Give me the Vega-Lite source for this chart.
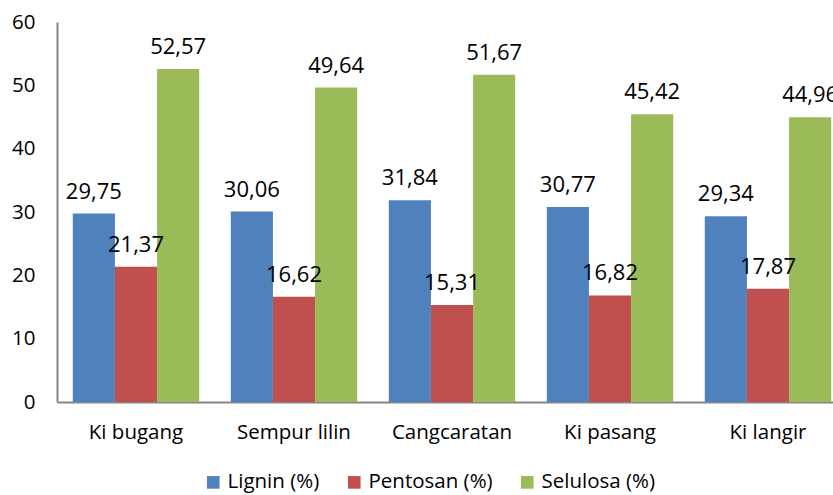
{
  "$schema": "https://vega.github.io/schema/vega-lite/v6.json",
  "autosize": {"type": "none"},
  "padding": {"left": 57, "top": 22, "right": 0, "bottom": 93},
  "width": 790,
  "height": 380,
  "config": {
    "locale": {"number": {"decimal": ",", "thousands": ".", "grouping": [3], "currency": ["", ""]}},
    "view": {"stroke": null},
    "font": "Open Sans"
  },
  "data": {
    "values": [
      {"jenis": "Ki bugang", "komponen": "Lignin (%)", "nilai": 29.75},
      {"jenis": "Ki bugang", "komponen": "Pentosan (%)", "nilai": 21.37},
      {"jenis": "Ki bugang", "komponen": "Selulosa (%)", "nilai": 52.57},
      {"jenis": "Sempur lilin", "komponen": "Lignin (%)", "nilai": 30.06},
      {"jenis": "Sempur lilin", "komponen": "Pentosan (%)", "nilai": 16.62},
      {"jenis": "Sempur lilin", "komponen": "Selulosa (%)", "nilai": 49.64},
      {"jenis": "Cangcaratan", "komponen": "Lignin (%)", "nilai": 31.84},
      {"jenis": "Cangcaratan", "komponen": "Pentosan (%)", "nilai": 15.31},
      {"jenis": "Cangcaratan", "komponen": "Selulosa (%)", "nilai": 51.67},
      {"jenis": "Ki pasang", "komponen": "Lignin (%)", "nilai": 30.77},
      {"jenis": "Ki pasang", "komponen": "Pentosan (%)", "nilai": 16.82},
      {"jenis": "Ki pasang", "komponen": "Selulosa (%)", "nilai": 45.42},
      {"jenis": "Ki langir", "komponen": "Lignin (%)", "nilai": 29.34},
      {"jenis": "Ki langir", "komponen": "Pentosan (%)", "nilai": 17.87},
      {"jenis": "Ki langir", "komponen": "Selulosa (%)", "nilai": 44.96}
    ]
  },
  "encoding": {
    "x": {
      "field": "jenis", "type": "nominal", "sort": null,
      "scale": {"paddingInner": 0.2, "paddingOuter": 0.1},
      "axis": {"title": null, "labelAngle": 0, "labelFontSize": 20.5, "labelColor": "#000000", "labelPadding": 20, "ticks": false, "domainColor": "#868686", "domainWidth": 2}
    },
    "xOffset": {"field": "komponen", "type": "nominal", "scale": {"paddingInner": 0, "paddingOuter": 0}},
    "y": {
      "field": "nilai", "type": "quantitative",
      "scale": {"domain": [0, 60]},
      "axis": {"title": null, "values": [0, 10, 20, 30, 40, 50, 60], "labelOverlap": false, "labelFlush": false, "grid": false, "ticks": false, "labelFontSize": 20.5, "labelColor": "#000000", "labelPadding": 22, "domainColor": "#868686", "domainWidth": 2}
    }
  },
  "layer": [
    {
      "mark": {"type": "bar"},
      "encoding": {
        "color": {
          "field": "komponen", "type": "nominal",
          "scale": {"domain": ["Lignin (%)", "Pentosan (%)", "Selulosa (%)"], "range": ["#4F81BD", "#C0504D", "#9BBB59"]},
          "legend": {
            "title": null, "orient": "none", "direction": "horizontal",
            "legendX": 146, "legendY": 450,
            "symbolType": "square", "symbolSize": 160, "symbolStrokeWidth": 0,
            "labelFontSize": 20.5, "labelColor": "#000000", "columnPadding": 24, "labelOffset": 4
          }
        }
      }
    },
    {
      "mark": {"type": "text", "baseline": "bottom", "dy": -10, "fontSize": 22, "color": "#000000"},
      "encoding": {
        "text": {"field": "nilai", "type": "quantitative", "format": ".2f"}
      }
    }
  ]
}
